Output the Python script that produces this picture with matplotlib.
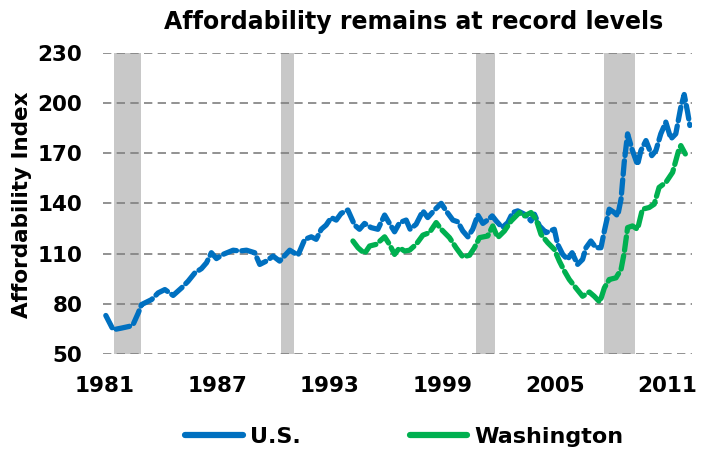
import matplotlib
matplotlib.use('Agg')
import matplotlib.pyplot as plt
from matplotlib.lines import Line2D

## --- Data --- ##

us_years = [1981.05, 1981.44, 1981.89, 1982.30, 1982.50, 1982.78, 1982.95, 1983.49, 1983.84,
            1984.20, 1984.64, 1985.09, 1985.44, 1985.80, 1986.15, 1986.42, 1986.68, 1986.95,
            1987.30, 1987.84, 1988.19, 1988.55, 1988.99, 1989.26, 1989.61, 1989.97, 1990.32,
            1990.86, 1991.30, 1991.66, 1992.01, 1992.27, 1992.54, 1992.80, 1993.07, 1993.34,
            1993.60, 1993.96, 1994.32, 1994.58, 1994.85, 1995.20, 1995.56, 1995.92, 1996.18,
            1996.45, 1996.72, 1997.07, 1997.28, 1997.60, 1997.96, 1998.22, 1998.58, 1998.94,
            1999.20, 1999.56, 1999.82, 2000.09, 2000.36, 2000.62, 2000.89, 2001.16, 2001.47,
            2001.66, 2001.87, 2002.19, 2002.49, 2002.75, 2003.02, 2003.38, 2003.73, 2003.91,
            2004.18, 2004.53, 2004.97, 2005.15, 2005.42, 2005.68, 2005.92, 2006.21, 2006.48,
            2006.66, 2006.92, 2007.19, 2007.46, 2007.64, 2007.90, 2008.17, 2008.35, 2008.53,
            2008.70, 2008.88, 2009.11, 2009.41, 2009.59, 2009.86, 2010.17, 2010.39, 2010.65,
            2010.92, 2011.19, 2011.45, 2011.72, 2011.90, 2012.08, 2012.20]
us_values = [73, 64.5, 65.5, 66.5, 67.5, 74.5, 79.5, 82.5, 86.5,
             88.5, 85, 89.5, 93.5, 98.5, 101, 104.5, 110.5, 107,
             109.5, 112, 111.5, 112, 110.5, 103.5, 105.5, 108.5, 105.5,
             112, 109, 118.5, 120, 118.5, 124.5, 127, 131.5, 130,
             134, 136, 127, 124.5, 128, 125.5, 124.5, 133, 128,
             123, 128.5, 130, 124.5, 127.5, 135.5, 131.5, 136, 140,
             135.5, 130, 129, 123.5, 120, 124.5, 133, 128, 130.5,
             132.5, 129.5, 125.5, 128.5, 134.5, 135.5, 133.5, 129.5, 133.5,
             126.5, 122.5, 124.5, 115.5, 109.5, 106.5, 110.5, 103.5, 106.5,
             113.5, 117.5, 113.5, 113.5, 123.5, 136.5, 134.5, 132.5, 142.5,
             164.5, 181.5, 172.5, 163, 171.5, 177.5, 168.5, 171.5, 181.5,
             188.5, 178.5, 181.5, 197.5, 205, 194.5, 186.5]

wa_years = [1994.23, 1994.50, 1994.85, 1995.12, 1995.47, 1995.92, 1996.18, 1996.45, 1996.72,
            1996.98, 1997.25, 1997.60, 1997.96, 1998.31, 1998.67, 1998.94, 1999.38, 1999.73,
            2000.09, 2000.45, 2000.71, 2000.98, 2001.42, 2001.69, 2001.95, 2002.31, 2002.67,
            2003.11, 2003.38, 2003.73, 2004.00, 2004.26, 2004.62, 2004.97, 2005.24, 2005.51,
            2005.77, 2006.12, 2006.48, 2006.84, 2007.10, 2007.40, 2007.64, 2007.90, 2008.26,
            2008.53, 2008.70, 2008.88, 2009.14, 2009.41, 2009.67, 2010.03, 2010.30, 2010.56,
            2010.92, 2011.28, 2011.60, 2011.72, 2011.96]
wa_values = [117.5, 113.5, 110, 114.5, 115.5, 120, 115.5, 109.5, 113.5,
             111.5, 112, 115.5, 121, 122.5, 128.5, 124.5, 119.5, 113.5,
             108, 109, 113.5, 119.5, 120.5, 126.5, 119.5, 123.5, 129.5,
             134.5, 132.5, 134.5, 130.5, 121.5, 116.5, 112.5, 105.5, 99.5,
             94.5, 89.5, 84.5, 87, 84.5, 81, 89.5, 94.5, 95.5,
             100.5, 110.5, 125.5, 126.5, 124.5, 136.5, 137.5, 139.5, 149.5,
             152.5, 158.5, 171.5, 174.5, 169.5]

rec_start = [1981.5, 1990.4, 2000.8, 2007.6]
rec_end = [1982.9, 1991.1, 2001.8, 2009.3]

x_ticks = [1981, 1987, 1993, 1999, 2005, 2011]
y_ticks = [50, 80, 110, 140, 170, 200, 230]

US_BLUE = '#0070C0'
WA_GREEN = '#00B050'

## --- Plot --- ##

fig = plt.figure(figsize=(7.08, 4.5), dpi=100)
ax = fig.add_axes([0.1455, 0.2133, 0.8315, 0.6697])

# Recession shading
for s, e in zip(rec_start, rec_end):
    ax.axvspan(s, e, color='#C8C8C8', lw=0, zorder=0)

# Dashed horizontal gridlines
for v in y_ticks:
    ax.axhline(v, color='#7F7F7F', lw=1.2, dashes=(5, 3.2), zorder=1)

line_kw = dict(lw=3.8, dashes=(2.6, 1.0), dash_capstyle='round', solid_capstyle='round', zorder=3)
ax.plot(us_years, us_values, color=US_BLUE, **line_kw)
ax.plot(wa_years, wa_values, color=WA_GREEN, **line_kw)

ax.set_xlim(1980.9, 2012.3)
ax.set_ylim(50, 230)
ax.set_xticks(x_ticks)
ax.set_yticks(y_ticks)
ax.tick_params(length=0, labelsize=15.5)
ax.tick_params(axis='y', pad=15)
ax.tick_params(axis='x', pad=16)
for lbl in ax.get_xticklabels() + ax.get_yticklabels():
    lbl.set_fontweight('bold')
for sp in ax.spines.values():
    sp.set_visible(False)

ax.set_ylabel('Affordability Index', fontsize=15.5, fontweight='bold')
ax.yaxis.set_label_coords(-0.1205, 0.495)
fig.text(0.584, 0.951, 'Affordability remains at record levels', fontsize=17,
         fontweight='bold', ha='center', va='center')

# Legend
handles = [Line2D([], [], color=US_BLUE, lw=4.5, solid_capstyle='round'),
           Line2D([], [], color=WA_GREEN, lw=4.5, solid_capstyle='round')]
fig.legend(handles, ['U.S.', 'Washington'], loc='center', bbox_to_anchor=(0.571, 0.029),
           ncol=2, frameon=False, handlelength=2.6, handletextpad=0.3, columnspacing=4.9,
           prop={'size': 16, 'weight': 'bold'})

plt.savefig('out.png', dpi=100)
